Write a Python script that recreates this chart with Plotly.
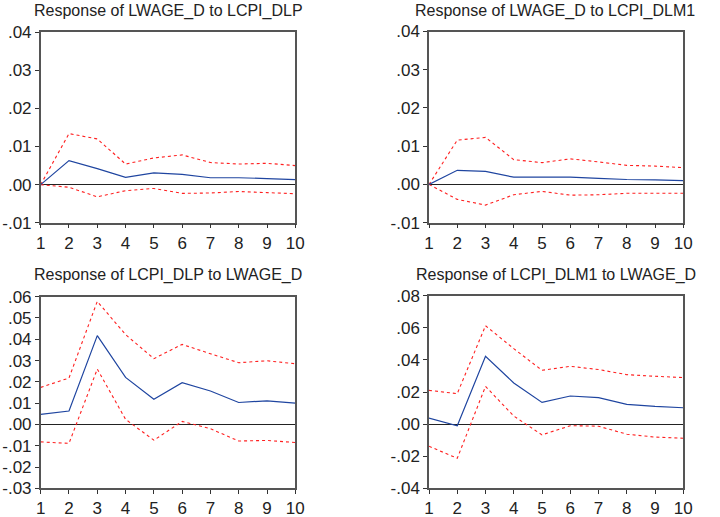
import plotly.graph_objects as go

periods = [1, 2, 3, 4, 5, 6, 7, 8, 9, 10]

titles = [
    "Response of LWAGE_D to LCPI_DLP",
    "Response of LWAGE_D to LCPI_DLM1",
    "Response of LCPI_DLP to LWAGE_D",
    "Response of LCPI_DLM1 to LWAGE_D",
]

# Panel 1
p1_resp = [0.0, 0.0063, 0.0042, 0.0019, 0.0031, 0.0027, 0.0018, 0.0018, 0.0016, 0.0013]
p1_upper = [0.0, 0.0134, 0.0120, 0.0054, 0.0070, 0.0078, 0.0058, 0.0054, 0.0056, 0.0050]
p1_lower = [0.0, -0.0007, -0.0032, -0.0016, -0.0010, -0.0023, -0.0022, -0.0018, -0.0021, -0.0024]

# Panel 2
p2_resp = [0.0, 0.0037, 0.0034, 0.0019, 0.0019, 0.0019, 0.0016, 0.0013, 0.0012, 0.0010]
p2_upper = [0.0, 0.0116, 0.0123, 0.0065, 0.0057, 0.0067, 0.0059, 0.0050, 0.0048, 0.0044]
p2_lower = [0.0, -0.0039, -0.0054, -0.0027, -0.0018, -0.0028, -0.0027, -0.0023, -0.0023, -0.0023]

# Panel 3
p3_resp = [0.0047, 0.0063, 0.0417, 0.0221, 0.0118, 0.0196, 0.0157, 0.0103, 0.0111, 0.0100]
p3_upper = [0.0174, 0.0218, 0.0578, 0.0422, 0.0309, 0.0376, 0.0332, 0.0290, 0.0299, 0.0285]
p3_lower = [-0.0082, -0.0089, 0.0260, 0.0024, -0.0074, 0.0014, -0.0020, -0.0078, -0.0075, -0.0085]

# Panel 4
p4_resp = [0.0037, -0.0010, 0.0423, 0.0256, 0.0135, 0.0175, 0.0165, 0.0123, 0.0110, 0.0102]
p4_upper = [0.0210, 0.0190, 0.0613, 0.0470, 0.0335, 0.0360, 0.0340, 0.0308, 0.0298, 0.0290]
p4_lower = [-0.0138, -0.0213, 0.0235, 0.0050, -0.0067, -0.0010, -0.0013, -0.0063, -0.0081, -0.0088]

p1_yticks = [-0.01, 0.00, 0.01, 0.02, 0.03, 0.04]
p2_yticks = [-0.01, 0.00, 0.01, 0.02, 0.03, 0.04]
p3_yticks = [-0.03, -0.02, -0.01, 0.00, 0.01, 0.02, 0.03, 0.04, 0.05, 0.06]
p4_yticks = [-0.04, -0.02, 0.00, 0.02, 0.04, 0.06, 0.08]


def fmt(v):
    s = f"{v:.2f}"
    return s.replace("0.", ".", 1)


panels = [
    (p1_resp, p1_upper, p1_lower, p1_yticks),
    (p2_resp, p2_upper, p2_lower, p2_yticks),
    (p3_resp, p3_upper, p3_lower, p3_yticks),
    (p4_resp, p4_upper, p4_lower, p4_yticks),
]

W, H = 720, 517
# pixel boxes: left, right, top, bottom
boxes = [
    (40.7, 295.3, 32.3, 222.7),
    (429.0, 683.3, 31.5, 222.7),
    (40.7, 295.3, 296.7, 488.3),
    (429.0, 683.3, 295.7, 488.3),
]
title_pos = [(168, 11), (555, 11), (168, 275), (555.5, 275)]

fig = go.Figure()
font_family = "Liberation Sans, Arial, sans-serif"
layout = dict(
    width=W, height=H, margin=dict(l=0, r=0, t=0, b=0, autoexpand=False),
    paper_bgcolor="white", plot_bgcolor="white", showlegend=False,
    font=dict(family=font_family, size=16, color="#222"),
)

annotations = []
for i, (resp, up, lo, yt) in enumerate(panels):
    n = i + 1
    xa = "x" if n == 1 else f"x{n}"
    ya = "y" if n == 1 else f"y{n}"
    fig.add_trace(go.Scatter(x=periods, y=up, mode="lines", xaxis=xa, yaxis=ya,
                             line=dict(color="#FF2020", width=1.1, dash="dot")))
    fig.add_trace(go.Scatter(x=periods, y=lo, mode="lines", xaxis=xa, yaxis=ya,
                             line=dict(color="#FF2020", width=1.1, dash="dot")))
    fig.add_trace(go.Scatter(x=periods, y=resp, mode="lines", xaxis=xa, yaxis=ya,
                             line=dict(color="#1F45A0", width=1.2)))
    l, r, t, b = boxes[i]
    xkey = "xaxis" if n == 1 else f"xaxis{n}"
    ykey = "yaxis" if n == 1 else f"yaxis{n}"
    layout[xkey] = dict(
        domain=[l / W, r / W], anchor=ya, range=[1, 10], automargin=False,
        tickvals=periods, ticktext=[str(p) for p in periods],
        ticks="outside", ticklen=4, tickcolor="#333", showline=True, mirror=True,
        linecolor="#555", linewidth=1.5, showgrid=False, zeroline=False,
        tickfont=dict(size=17, color="#222"),
    )
    layout[ykey] = dict(
        domain=[1 - b / H, 1 - t / H], anchor=xa, range=[yt[0], yt[-1]], automargin=False,
        tickvals=yt, ticktext=[fmt(v) for v in yt],
        ticks="outside", ticklen=4, tickcolor="#333", showline=True, mirror=True,
        linecolor="#555", linewidth=1.5, showgrid=False,
        zeroline=True, zerolinecolor="#222", zerolinewidth=1.3,
        tickfont=dict(size=17, color="#222"),
    )
    tx, ty = title_pos[i]
    annotations.append(dict(
        text=titles[i], xref="paper", yref="paper", x=tx / W, y=1 - ty / H,
        xanchor="center", yanchor="middle", showarrow=False,
        font=dict(size=16, color="#222", family=font_family),
    ))

layout["annotations"] = annotations
fig.update_layout(**layout)
fig.write_html("out.html")
